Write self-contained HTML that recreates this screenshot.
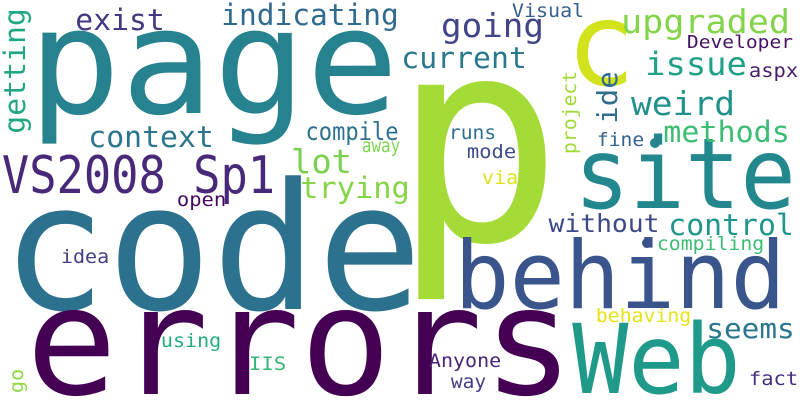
<!DOCTYPE html>
<html><head><meta charset="utf-8">
<style>
html,body{margin:0;padding:0;background:#fff;overflow:hidden;width:800px;height:400px;}
svg{display:block;}
text{font-family:"DejaVu Sans Mono","Liberation Mono",monospace;}
</style></head>
<body>
<svg id="cloud" width="800" height="400" viewBox="0 0 800 400" xmlns="http://www.w3.org/2000/svg">
<rect width="800" height="400" fill="#ffffff"/>
</svg>
<script>
// big single letters (drawn first, behind the rest)
const bigLetters = ["p","c"];
const bigX = [392,566];
const bigY = [240,85];
const bigSize = [284,116];
const bigColor = ["#a5db36","#d2e21b"];
// words, ink left x, baseline y, font size, ink width, color, rotation
const words = ["page","code","errors","VS2008 Sp1","site","behind","Web","upgraded","Developer","issue","aspx","weird","methods","fine","current","going","Visual","runs","mode","via","indicating","exist","context","compile","away","lot","trying","open","idea","using","IIS","without","control","compiling","behaving","seems","Anyone","way","fact","getting","project","ide","go"];
const inkX = [37,12,35,5,580,460,578,623,688,647,750,633,665,598,403,443,513,450,468,483,223,77,90,307,363,293,302,178,62,162,250,550,670,658,597,708,430,452,750,5,567,592,12];
const baseY = [113,309,394,193,208,308,393,33,48,75,77,115,142,146,68,37,17,139,158,184,25,30,147,140,152,173,198,206,263,347,370,232,235,250,322,338,367,388,385,132,153,122,392];
const sizes = [147,176,150,52,98,94,96,33,18,32,19,33,29,19,29,33,19,19,19,19,29,29,29,25,19,33,29,19,19,19,19,25,29,19,19,28,19,19,19,29,19,28,19];
const inkW = [353,400,530,267,210,320,157,165,104,98,47,100,123,45,122,99,70,45,47,34,174,86,122,90,36,57,106,47,46,58,35,108,122,105,93,85,70,33,47,122,81,49,22];
const colors = ["#26828e","#2c728e","#440154","#482878","#23888e","#3a548c","#1f9a8a","#84d44b","#471164","#1fa187","#481b6d","#21918c","#3dbc74","#33638d","#2a788e","#414487","#355f8d","#2e6e8e","#3e4c8a","#dde318","#306a8e","#453781","#2b758e","#2d718e","#7fd34e","#7ad151","#86d549","#46085c","#423f85","#25ac82","#35b779","#3e4989","#1f968b","#3cbc75","#e5e419","#2a768e","#482475","#433e85","#46307e","#22a785","#a0da39","#2f6c8e","#8fd744"];
const rot = [0,0,0,0,0,0,0,0,0,0,0,0,0,0,0,0,0,0,0,0,0,0,0,0,0,0,0,0,0,0,0,0,0,0,0,0,0,0,0,1,1,1,1];
const vBase = [25,576,617,23];

const svg = document.getElementById('cloud');
const NS = "http://www.w3.org/2000/svg";
for (let j = 0; j < bigLetters.length; j++) {
  const t = document.createElementNS(NS, 'text');
  t.setAttribute('x', bigX[j]);
  t.setAttribute('y', bigY[j]);
  t.setAttribute('font-size', bigSize[j]);
  t.setAttribute('fill', bigColor[j]);
  t.textContent = bigLetters[j];
  
  
  svg.appendChild(t);
}
let vi = 0;
for (let i = 0; i < words.length; i++) {
  const t = document.createElementNS(NS, 'text');
  const fs = sizes[i];
  const len = inkW[i] + 0.12 * fs;
  t.setAttribute('font-size', fs);
  t.setAttribute('fill', colors[i]);
  t.setAttribute('textLength', len.toFixed(1));
  t.setAttribute('lengthAdjust', 'spacingAndGlyphs');
  if (rot[i]) {
    const bx = vBase[vi++];
    const by = baseY[i] + 0.06 * fs;
    t.setAttribute('x', bx);
    t.setAttribute('y', by.toFixed(1));
    t.setAttribute('transform', 'rotate(-90 ' + bx + ' ' + by.toFixed(1) + ')');
  } else {
    t.setAttribute('x', (inkX[i] - 0.06 * fs).toFixed(1));
    t.setAttribute('y', baseY[i]);
  }
  t.textContent = words[i];
  
  
  svg.appendChild(t);
}
const dots = [[655,143,"#26828e","dot-mark-teal"],[647,243,"#3b528b","dot-mark-blue"]];
for (const d of dots) {
  const c = document.createElementNS(NS, 'circle');
  c.setAttribute('cx', d[0]);
  c.setAttribute('cy', d[1]);
  c.setAttribute('r', 5);
  c.setAttribute('fill', d[2]);
  
  
  svg.appendChild(c);
}
</script>
</body></html>
